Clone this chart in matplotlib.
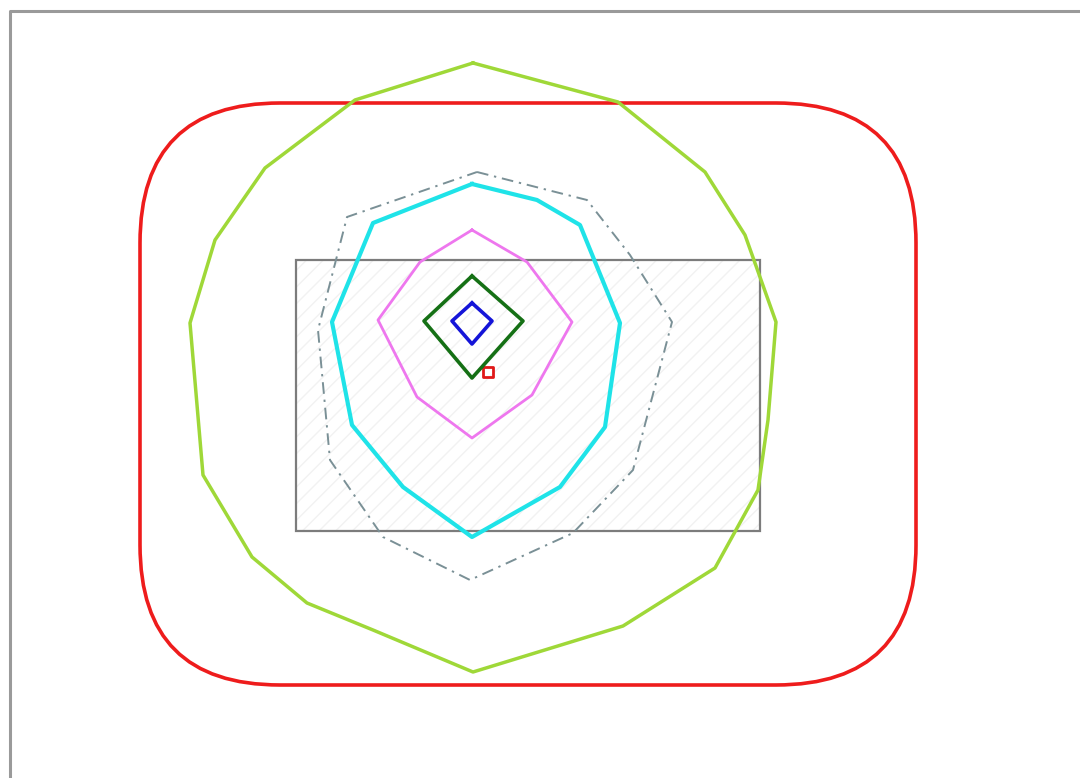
import matplotlib
matplotlib.use('Agg')
import matplotlib.pyplot as plt
from matplotlib.patches import FancyBboxPatch, Rectangle

# Outer rounded boundary: left, top, width, height, corner radius
outer_box = [140, 103, 776, 582]
outer_radius = 140

# Inner rectangle: left, top, width, height
inner_box = [296, 260, 464, 271]

# Contour rings, listed from outside to inside
green_x = [473, 618, 705, 745, 776, 768, 758, 715, 623, 473, 373, 307, 252, 203, 190, 215, 265, 355, 473]
green_y = [63, 102, 172, 235, 322, 420, 490, 568, 626, 672, 630, 603, 557, 475, 323, 240, 168, 100, 63]

dashed_x = [477, 587, 630, 672, 633, 573, 470, 383, 330, 318, 347, 477]
dashed_y = [172, 200, 255, 322, 470, 533, 580, 537, 460, 330, 217, 172]

cyan_x = [472, 537, 580, 620, 605, 560, 472, 403, 352, 332, 373, 472]
cyan_y = [184, 200, 225, 323, 427, 487, 537, 487, 425, 322, 223, 184]

violet_x = [472, 527, 572, 532, 472, 417, 378, 420, 472]
violet_y = [230, 262, 322, 395, 438, 397, 320, 262, 230]

dkgreen_x = [472, 523, 472, 424, 472]
dkgreen_y = [276, 321, 378, 321, 276]

blue_x = [472, 492, 472, 452, 472]
blue_y = [303, 321, 344, 321, 303]

# Peak marker
peak_x = [488]
peak_y = [372]

fig = plt.figure(figsize=(10.8, 7.78), dpi=100)
ax = fig.add_axes([0, 0, 1, 1])
ax.set_xlim(0, 1080)
ax.set_ylim(778, 0)
ax.axis('off')

# frame (top and left edges only; the rest runs off the page)
ax.plot([10, 10, 1080], [778, 11, 11], color='#9a9a9a', lw=2.2,
        solid_capstyle='butt')

# inner rectangle with faint hatching
ax.add_patch(Rectangle((inner_box[0], inner_box[1]), inner_box[2], inner_box[3],
                       facecolor='none', edgecolor='#f2f2f2', lw=0, hatch='//'))
ax.add_patch(Rectangle((inner_box[0], inner_box[1]), inner_box[2], inner_box[3],
                       facecolor='none', edgecolor='#7c7c7c', lw=1.6))

# outer rounded boundary
ax.add_patch(FancyBboxPatch((outer_box[0], outer_box[1]), outer_box[2], outer_box[3],
                            boxstyle=f"round,pad=0,rounding_size={outer_radius}",
                            facecolor='none', edgecolor='#ee1c1c', lw=2.6))

ax.plot(green_x, green_y, color='#9fd838', lw=2.5)
ax.plot(dashed_x, dashed_y, color='#7a9096', lw=1.4, dashes=[6, 3, 1.2, 3])
ax.plot(cyan_x, cyan_y, color='#1fe3e8', lw=3.0)
ax.plot(violet_x, violet_y, color='#ee77ee', lw=2.0)
ax.plot(dkgreen_x, dkgreen_y, color='#157015', lw=2.6)
ax.plot(blue_x, blue_y, color='#1414d8', lw=2.6)
ax.scatter(peak_x, peak_y, marker='s', s=42, facecolors='none',
           edgecolors='#e01818', linewidths=2.0)

fig.savefig('out.png', dpi=100)
